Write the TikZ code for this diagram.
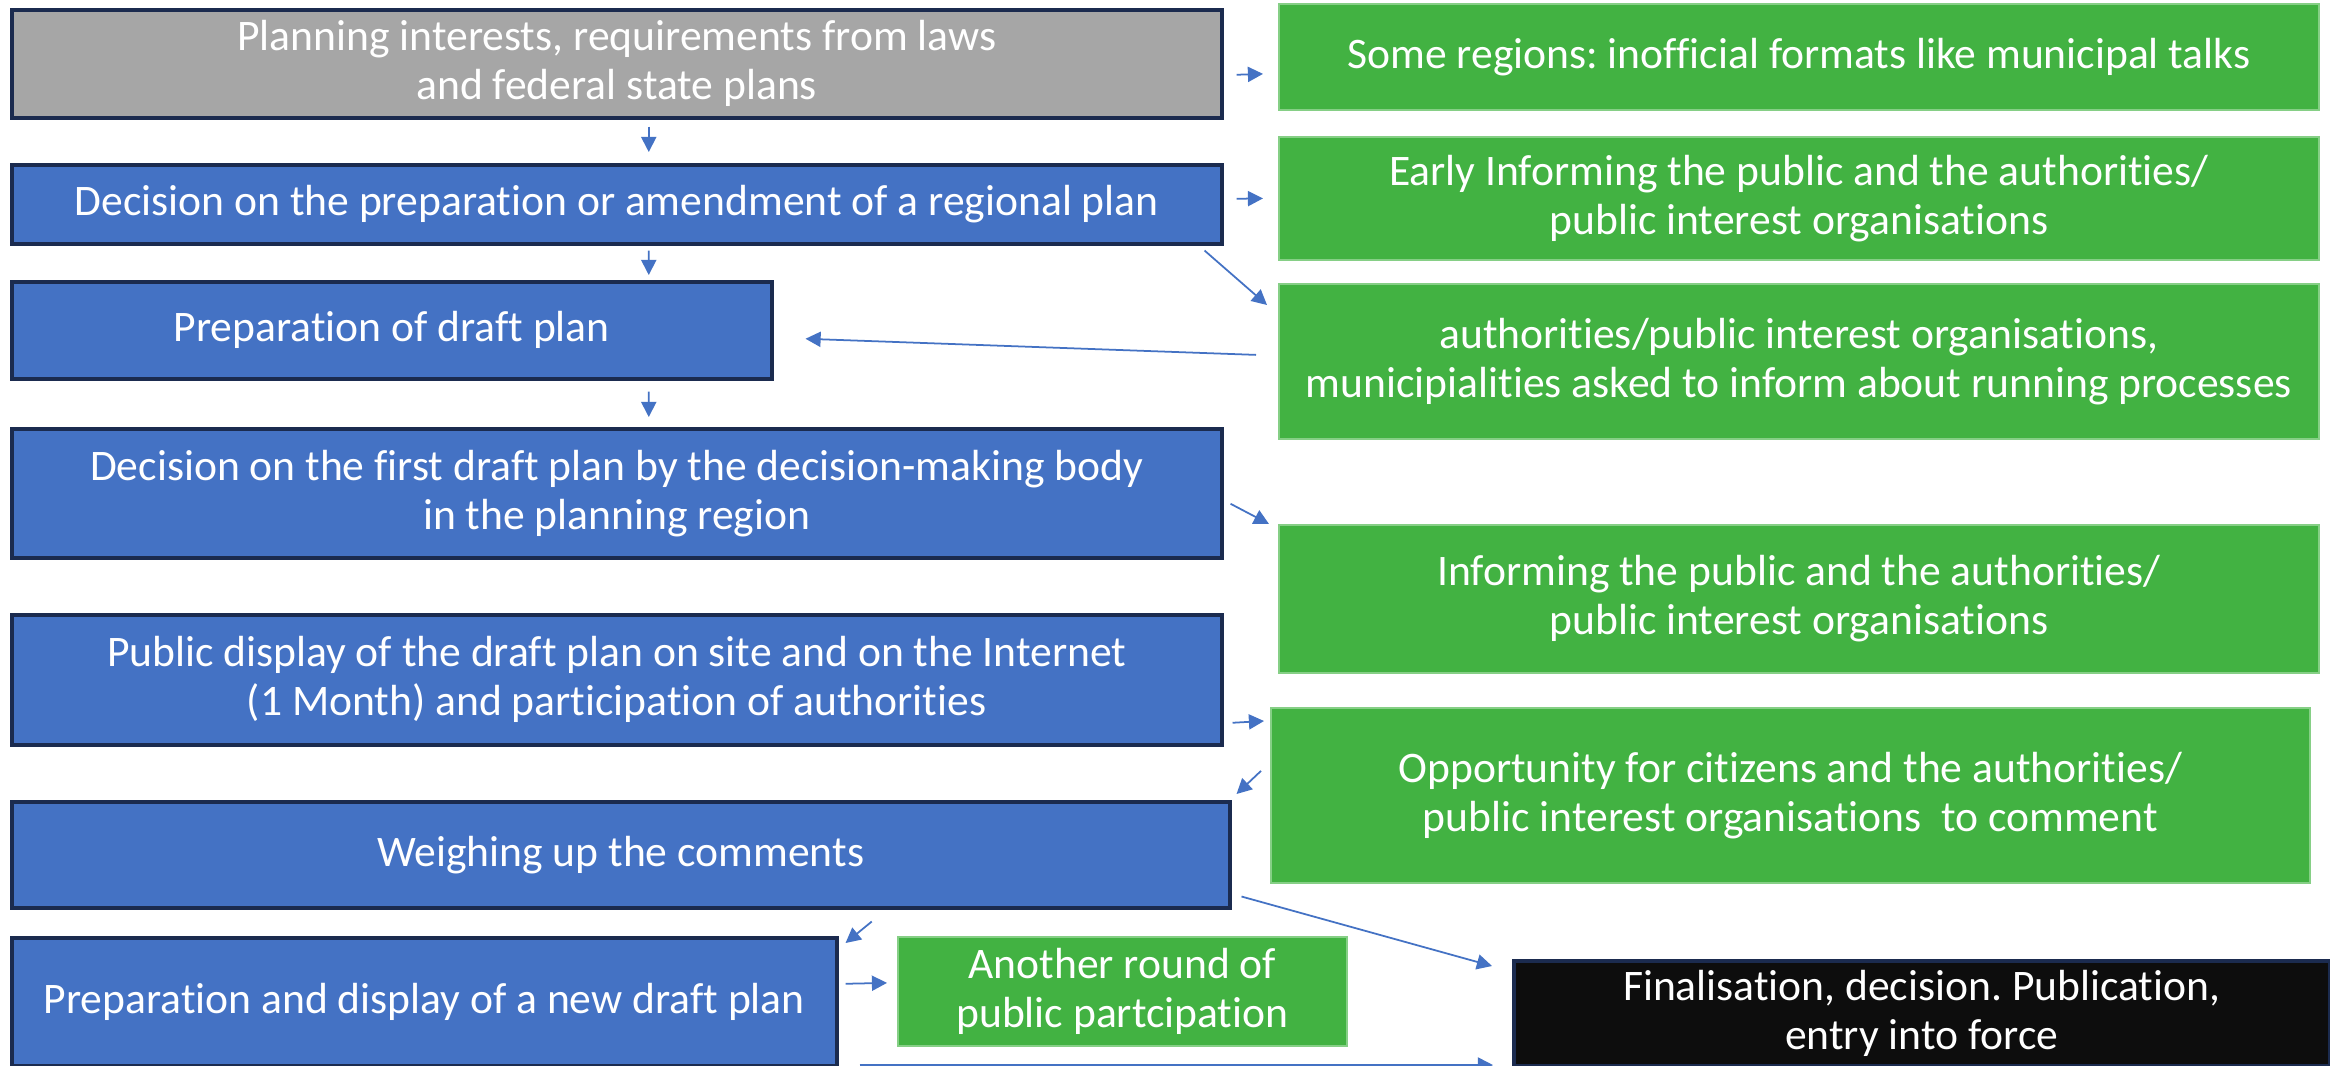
\documentclass[tikz,border=0pt]{standalone}
\usepackage{fontspec}
\setmainfont{Carlito}[Ligatures=NoCommon]
\frenchspacing
\usetikzlibrary{arrows.meta}

\definecolor{stepblue}{HTML}{4472C4}
\definecolor{navyline}{HTML}{1B2B4F}
\definecolor{sidegreen}{HTML}{42B242}
\definecolor{sideline}{HTML}{86CF86}
\definecolor{inputgray}{HTML}{A6A6A6}
\definecolor{endblack}{HTML}{0D0D0D}

\begin{document}
\begin{tikzpicture}[
  box/.style={draw=navyline, line width=1pt, text=white, align=center,
              anchor=north west, inner sep=2pt, font=\fontsize{12.4}{14}\selectfont},
  stepbox/.style={box, fill=stepblue},
  sidebox/.style={box, draw=sideline, line width=0.5pt, fill=sidegreen},
  arr/.style={draw=stepblue, line width=0.5pt, -{Triangle[length=4.3pt,width=4.3pt]}}
]

\useasboundingbox (0,0) rectangle (23.3,-10.65);
\fill[white] (0,0) rectangle (23.3,-10.65);

% Main procedure (left column)
\node[box, fill=inputgray, minimum width=12.10cm, minimum height=1.08cm] (plan) at (0.10,-0.08)
  {Planning interests, requirements from laws\\and federal state plans};
\node[stepbox, minimum width=12.10cm, minimum height=0.79cm] (decide) at (0.10,-1.63)
  {Decision on the preparation or amendment of a regional plan};
\node[stepbox, minimum width=7.60cm, minimum height=0.97cm] (draft) at (0.10,-2.80)
  {Preparation of draft plan};
\node[stepbox, minimum width=12.10cm, minimum height=1.29cm] (first) at (0.10,-4.27)
  {Decision on the first draft plan by the decision-making body\\in the planning region};
\node[stepbox, minimum width=12.10cm, minimum height=1.30cm] (display) at (0.10,-6.13)
  {Public display of the draft plan on site and on the Internet\\(1 Month) and participation of authorities};
\node[stepbox, minimum width=12.18cm, minimum height=1.06cm] (weigh) at (0.10,-8.00)
  {Weighing up the comments};
\node[stepbox, minimum width=8.25cm, minimum height=1.28cm] (newdraft) at (0.10,-9.36)
  {Preparation and display of a new draft plan};

% Participation (right column)
\node[sidebox, minimum width=10.40cm, minimum height=1.06cm] (talks) at (12.78,-0.03)
  {Some regions: inofficial formats like municipal talks};
\node[sidebox, minimum width=10.40cm, minimum height=1.23cm] (early) at (12.78,-1.36)
  {Early Informing the public and the authorities/\\public interest organisations};
\node[sidebox, minimum width=10.40cm, minimum height=1.55cm] (ask) at (12.78,-2.83)
  {authorities/public interest organisations,\\municipialities asked to inform about running processes};
\node[sidebox, minimum width=10.40cm, minimum height=1.48cm] (inform) at (12.78,-5.24)
  {Informing the public and the authorities/\\public interest organisations};
\node[sidebox, minimum width=10.39cm, minimum height=1.75cm] (comment) at (12.70,-7.07)
  {Opportunity for citizens and the authorities/\\public interest organisations\ \ to comment};
\node[sidebox, minimum width=4.49cm, minimum height=1.09cm] (another) at (8.97,-9.36)
  {Another round of\\public partcipation};
\node[box, fill=endblack, minimum width=8.16cm, minimum height=1.05cm] (final) at (15.12,-9.59)
  {Finalisation, decision. Publication,\\entry into force};

% Down the main column
\draw[arr] ([xshift=.32cm,yshift=-.07cm]plan.south) -- ([xshift=.32cm,yshift=.11cm]decide.north);
\draw[arr] ([xshift=.32cm,yshift=-.05cm]decide.south) -- ([xshift=2.57cm,yshift=.05cm]draft.north);
\draw[arr] ([xshift=2.57cm,yshift=-.11cm]draft.south) -- ([xshift=.32cm,yshift=.10cm]first.north);

% Out to the participation steps and back
\draw[arr] ([xshift=.13cm,yshift=-.11cm]plan.east) -- ([xshift=-.15cm,yshift=-.17cm]talks.west);
\draw[arr] ([xshift=.13cm,yshift=.055cm]decide.east) -- ([xshift=-.15cm]early.west);
\draw[arr] ([xshift=-.19cm,yshift=-.05cm]decide.south east) -- ([xshift=-.11cm,yshift=-.22cm]ask.north west);
\draw[arr] ([xshift=-.22cm,yshift=.065cm]ask.west) -- ([xshift=.32cm,yshift=-.085cm]draft.east);
\draw[arr] ([xshift=.07cm,yshift=-.105cm]first.east) -- ([xshift=-.09cm]inform.north west);
\draw[arr] ([xshift=.09cm,yshift=-.43cm]display.east) -- ([xshift=-.06cm,yshift=-.14cm]comment.north west);
\draw[arr] ([xshift=-.09cm,yshift=.245cm]comment.west) -- ([xshift=.05cm,yshift=.06cm]weigh.north east);

% Final steps
\draw[arr] ([xshift=.10cm,yshift=.13cm]weigh.south east) -- ([xshift=-.20cm,yshift=-.07cm]final.north west);
\draw[arr] ([xshift=2.51cm,yshift=-.12cm]weigh.south) -- ([xshift=.07cm,yshift=-.07cm]newdraft.north east);
\draw[arr] ([xshift=.07cm,yshift=.18cm]newdraft.east) -- ([xshift=-.10cm,yshift=.085cm]another.west);
\draw[arr] ([xshift=.21cm,yshift=.025cm]newdraft.south east) -- ([xshift=-.19cm,yshift=.025cm]final.south west);

\end{tikzpicture}
\end{document}
